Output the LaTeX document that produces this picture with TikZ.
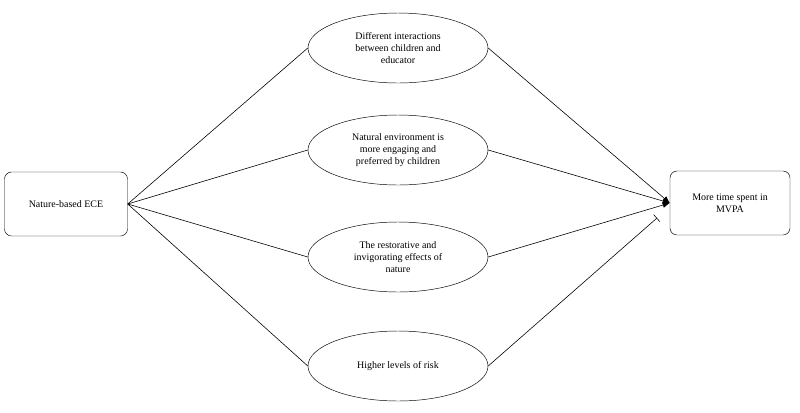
\documentclass[tikz,border=0pt]{standalone}
\usepackage{fontspec}
\setmainfont{Liberation Serif}
\usetikzlibrary{arrows.meta,shapes.geometric}
\begin{document}
\begin{tikzpicture}
	  [
	    x = 0.03cm, y = -0.03cm,
	    every node/.style = {font=\fontsize{8.5}{10}\selectfont, align=center},
	    endbox/.style     = {draw, rounded corners=6pt, minimum width=123*0.03cm, minimum height=64*0.03cm},
	    factor/.style     = {draw, ellipse, minimum width=180*0.03cm, minimum height=70*0.03cm, inner sep=0pt},
	    link/.style       = {draw, line width=0.5pt}
	  ]
		\useasboundingbox (0,0) rectangle (800,412);
		\node[endbox] (ece) at (66,204) {Nature-based ECE};
		\node[endbox, minimum width=120*0.03cm] (mvpa) at (730,203) {More time spent in\\MVPA};
		\node[factor] (f1) at (398,48) {Different interactions\\between children and\\educator};
		\node[factor] (f2) at (398,150) {Natural environment is\\more engaging and\\preferred by children};
		\node[factor] (f3) at (398,257) {The restorative and\\invigorating effects of\\nature};
		\node[factor] (f4) at (398,366) {Higher levels of risk};
		\coordinate (riskend) at (657,218);
		\draw[link] (ece.east) -- (f1.west);
		\draw[link] (ece.east) -- (f2.west);
		\draw[link] (ece.east) -- (f3.west);
		\draw[link] (ece.east) -- (f4.west);
		\draw[link, -{Latex[length=6pt,width=5pt]}] (f1.east) -- (mvpa.west);
		\draw[link, -{Latex[length=6pt,width=5pt]}] (f2.east) -- (mvpa.west);
		\draw[link, -{Latex[length=6pt,width=5pt]}] (f3.east) -- (mvpa.west);
		\draw[link, -{Bar[width=8pt]}] (f4.east) -- (riskend);
	\end{tikzpicture}
\end{document}
